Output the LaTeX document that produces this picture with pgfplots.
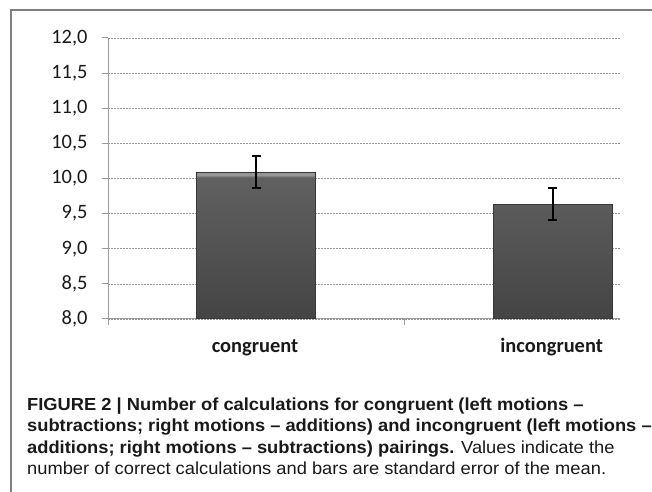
\documentclass[border=0pt]{standalone}
\usepackage{fontspec}
\setmainfont{Carlito}
\newfontfamily\capfont[FakeStretch=1.05]{Liberation Sans}
\usepackage{pgfplots}
\pgfplotsset{compat=1.18}
\definecolor{framegray}{RGB}{128,128,128}
\definecolor{axisgray}{RGB}{155,155,155}
\definecolor{gridgray}{RGB}{150,150,150}
\definecolor{bd}{RGB}{68,68,68}
\definecolor{bm}{RGB}{96,96,96}
\definecolor{bl}{RGB}{150,150,150}
\definecolor{barborder}{RGB}{55,55,55}
\definecolor{txt}{RGB}{25,25,25}
\pgfdeclareverticalshading{barshade}{100bp}{color(0bp)=(bd); color(25bp)=(bd); color(72bp)=(bm); color(73.2bp)=(bm); color(74bp)=(bl); color(75bp)=(bl); color(100bp)=(bl)}
\begin{document}
\begin{tikzpicture}
\draw[framegray, line width=1.5bp] (11bp,0bp) -- (11bp,482bp) -- (652bp,482bp);
\begin{axis}[
  at={(108bp,173bp)}, anchor=south west,
  scale only axis, width=512bp, height=281bp,
  xmin=0.5, xmax=2.226, ymin=8, ymax=12,
  axis x line*=bottom, axis y line*=left,
  axis line style={draw=axisgray, line width=1bp},
  ytick={8,8.5,9,9.5,10,10.5,11,11.5,12},
  yticklabels={{8,0},{8,5},{9,0},{9,5},{10,0},{10,5},{11,0},{11,5},{12,0}},
  xtick={0.5,1.5},
  xticklabels={congruent,incongruent},
  xticklabel style={anchor=base, xshift=147bp, yshift=-28bp, font=\fontsize{20.5}{20.5}\selectfont\bfseries, text=txt},
  yticklabel style={xshift=-11bp, font=\fontsize{20.5}{20.5}\selectfont, text=txt},
  tick align=outside, major tick length=6bp,
  tick style={draw=axisgray, line width=1bp},
  ymajorgrids=true,
  grid style={draw=gridgray, line width=0.6bp, dash pattern=on 2bp off 1bp},
  clip=false,
]
\addplot[ybar, bar width=119bp, draw=barborder, line width=1bp,
  shading=barshade,
  error bars/.cd, y dir=both, y explicit,
  error bar style={black, line width=2bp},
  error mark options={black, line width=2bp, mark size=4.5bp, rotate=90}]
  coordinates {(1,10.09) +- (0,0.225) (2,9.635) +- (0,0.23)};
\end{axis}
\capfont\fontsize{17.5}{17.5}\selectfont
\node[anchor=base west, inner sep=0pt, text=txt] at (27bp,81bp) {\bfseries FIGURE 2 | Number of calculations for congruent (left motions –};
\node[anchor=base west, inner sep=0pt, text=txt] at (27bp,60bp) {\bfseries subtractions; right motions – additions) and incongruent (left motions –};
\node[anchor=base west, inner sep=0pt, text=txt] at (27bp,39bp) {{\bfseries additions; right motions – subtractions) pairings.} Values indicate the};
\node[anchor=base west, inner sep=0pt, text=txt] at (27bp,18bp) {number of correct calculations and bars are standard error of the mean.};
\pgfresetboundingbox
\path[use as bounding box] (0,0) rectangle (652bp,492bp);
\end{tikzpicture}
\end{document}
